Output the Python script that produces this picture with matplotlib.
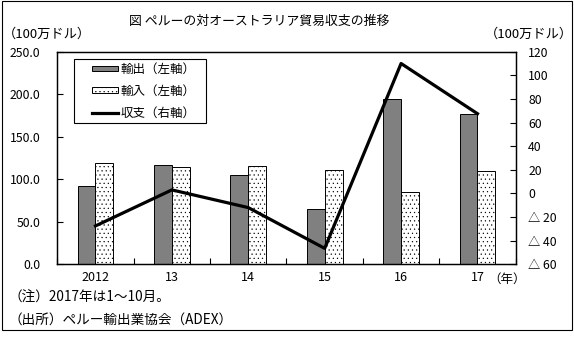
import matplotlib
matplotlib.use("Agg")
import matplotlib.pyplot as plt
import numpy as np
from matplotlib.patches import Patch, Rectangle
from matplotlib.lines import Line2D

plt.rcParams['font.family'] = ['Noto Sans CJK JP', 'DejaVu Sans']
plt.rcParams['hatch.linewidth'] = 0.35

years = ['2012', '13', '14', '15', '16', '17']
exports = [92, 117, 105, 65, 194, 177]
imports = [119, 114, 115.5, 111, 85, 110]
balance = [-27.5, 3, -12, -46.5, 110, 67.5]

left_ticks = [0, 50, 100, 150, 200, 250]
left_labels = ['0.0', '50.0', '100.0', '150.0', '200.0', '250.0']
right_ticks = [-60, -40, -20, 0, 20, 40, 60, 80, 100, 120]
right_labels = ['△ 60', '△ 40', '△ 20', '0', '20', '40', '60', '80', '100', '120']

fig = plt.figure(figsize=(5.74, 3.37), dpi=100)
ax = fig.add_axes([0.0998, 0.2157, 0.7986, 0.6309])
ax2 = ax.twinx()

x = np.arange(len(years))
w = 0.235
ax.bar(x - w/2, exports, w, color='#808080', edgecolor='black', linewidth=0.7, zorder=2)
ax.bar(x + w/2, imports, w, color='white', edgecolor='black', linewidth=0.7, hatch='....', zorder=2)
ax2.plot(x, balance, color='black', linewidth=2.3, zorder=3)

ax.set_xlim(-0.5, len(years) - 0.5)
ax.set_ylim(0, 250)
ax2.set_ylim(-60, 120)

ax.set_yticks(left_ticks)
ax.set_yticklabels(left_labels, fontsize=8.8)
ax2.set_yticks(right_ticks)
ax2.set_yticklabels(right_labels, fontsize=8.8, ha='left')

ax.set_xticks(x)
ax.set_xticklabels(years, fontsize=9)
ax.set_xticks(np.arange(len(years) + 1) - 0.5, minor=True)
ax.tick_params(axis='x', which='major', length=0, pad=5)
ax.tick_params(axis='x', which='minor', direction='in', length=4, width=0.8)
ax.tick_params(axis='y', direction='in', length=4, width=0.8, pad=12)
ax2.tick_params(axis='y', direction='in', length=4, width=0.8, pad=9)

for a in (ax, ax2):
    for s in a.spines.values():
        s.set_linewidth(0.9)

handles = [Patch(facecolor='#808080', edgecolor='black', linewidth=0.7),
           Patch(facecolor='white', edgecolor='black', linewidth=0.7, hatch='....'),
           Line2D([0], [0], color='black', linewidth=2.3)]
labels = ['輸出（左軸）', '輸入（左軸）', '収支（右軸）']
leg = ax2.legend(handles, labels, loc='upper left', bbox_to_anchor=(0.0757, 0.947),
                 fontsize=9, frameon=False, borderpad=0, borderaxespad=0,
                 handlelength=2.08, handleheight=0.35, handletextpad=0.2,
                 labelspacing=0.7)
leg.set_zorder(6)
ax2.add_patch(Rectangle((0.0364, 0.663), 0.288, 0.3027, transform=ax2.transAxes,
                        facecolor='white', edgecolor='black', linewidth=0.8, zorder=5))

fig.text(259/574, 1 - 21/337, '図 ペルーの対オーストラリア貿易収支の推移', ha='center', va='center', fontsize=9.3)
fig.text(3/574, 1 - 34/337, '（100万ドル）', ha='left', va='center', fontsize=9.5)
fig.text(573/574, 1 - 34/337, '（100万ドル）', ha='right', va='center', fontsize=9.5)
fig.text(488/574, 1 - 279/337, '（年）', ha='left', va='center', fontsize=9)
fig.text(8/574, 1 - 298/337, '（注）2017年は1～10月。', ha='left', va='center', fontsize=9.8)
fig.text(8/574, 1 - 320/337, '（出所）ペルー輸出業協会（ADEX）', ha='left', va='center', fontsize=9.8)

fig.add_artist(Rectangle((2/574, 1 - 330/337), 570/574, 329/337,
                         transform=fig.transFigure, fill=False, edgecolor='black', linewidth=0.8))

fig.savefig('out.png', dpi=100)
